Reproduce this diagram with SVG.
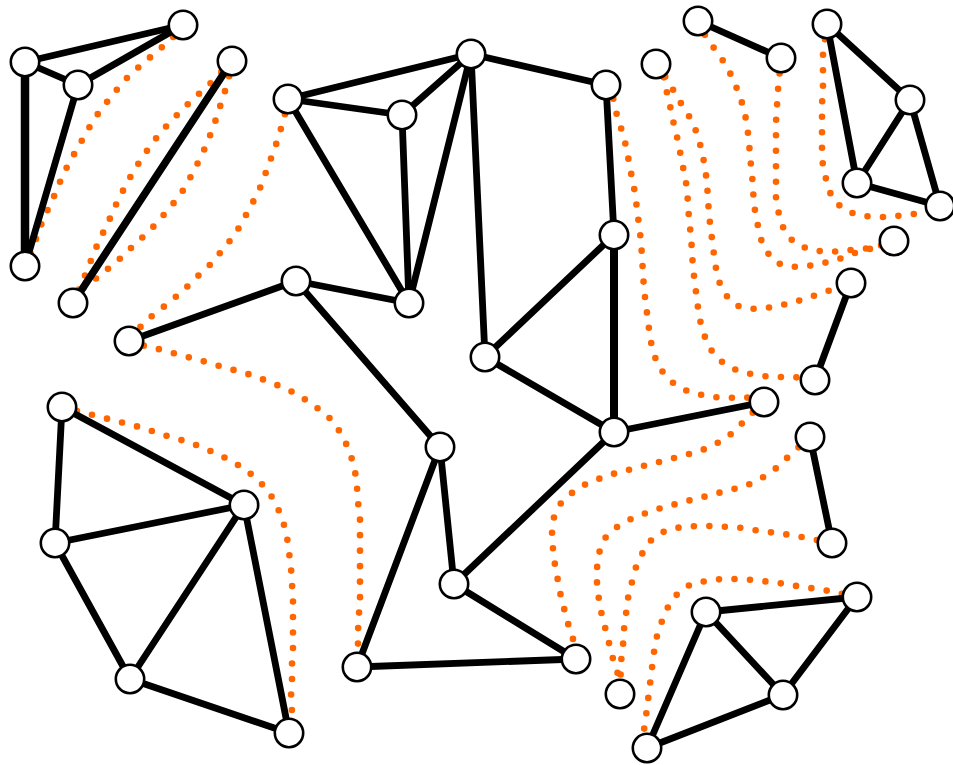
<svg xmlns="http://www.w3.org/2000/svg" width="953" height="765" viewBox="0 0 953 765">
<style>
.dot{fill:none;stroke:#ff6600;stroke-width:6.6;stroke-linecap:round;stroke-linejoin:round;stroke-dasharray:0 15.5}
.e{stroke:#000;stroke-width:6.8;stroke-linecap:round}
.n{fill:#fff;stroke:#000;stroke-width:2.6}
</style>
<rect width="953" height="765" fill="#fff"/>
<g id="dotted">
<path class="dot" d="M183,25 L170,41 157,51 146,61 133,72 122,83 112,96 102,108 93,121 85,135 77,149 69,163 62,177 56,192 49,207 43,220 37,236 32,250 25,266"/>
<path class="dot" d="M232,61 L207,87 194,98 183,109 172,120 161,132 151,145 142,158 133,172 126,185 118,200 112,214 105,229 98,243 92,258 86,273 80,287 73,303"/>
<path class="dot" d="M232,61 L228,82 223,97 218,113 213,128 207,143 201,157 193,172 186,186 177,199 167,211 156,224 145,235 133,246 122,257 110,267 99,277 87,283 73,303"/>
<path class="dot" d="M288,99 L284,119 279,135 274,151 268,166 263,181 257,195 249,209 242,223 233,237 223,249 213,262 201,273 190,284 178,295 166,305 153,315 142,325 129,341"/>
<path class="dot" d="M129,341 L148,347 163,350 180,355 195,359 210,363 226,368 242,372 257,377 272,383 287,389 300,396 313,405 327,415 337,427 345,441 351,456 355,471 357,487 358,502 360,518 360,534 360,550 360,566 360,582 360,598 359,614 358,631 358,647 357,667"/>
<path class="dot" d="M62,407 L80,412 97,416 112,420 128,424 143,428 158,433 173,438 189,442 203,448 218,454 233,462 246,470 258,480 269,492 277,506 283,521 287,537 289,552 291,568 292,584 293,600 293,616 293,632 293,648 292,664 292,680 291,696 292,712 289,733"/>
<path class="dot" d="M606,85 L614,100 617,116 622,131 626,146 629,162 632,178 635,193 637,209 639,225 641,241 642,257 643,273 644,289 646,305 648,321 650,337 653,352 659,367 669,380 682,389 697,394 713,397 729,398 745,397 764,402"/>
<path class="dot" d="M698,21 L707,39 717,52 726,65 733,79 739,94 744,109 747,125 749,141 750,157 752,173 753,189 754,205 757,221 760,237 766,251 777,263 792,267 808,266 824,263 839,259 855,253 873,248 894,241"/>
<path class="dot" d="M781,58 L778,90 777,106 776,122 776,138 776,154 776,170 776,186 776,202 780,218 785,233 796,244 811,250 827,252 843,251 858,249 874,248 894,241"/>
<path class="dot" d="M827,24 L823,55 823,71 823,87 822,104 822,120 822,136 822,152 823,167 827,183 832,198 843,209 857,215 873,217 889,217 905,215 922,213 940,206"/>
<path class="dot" d="M656,64 L666,81 667,94 671,110 674,125 678,141 681,157 684,172 687,188 688,204 689,219 691,236 692,252 693,268 695,284 697,300 699,316 703,332 709,347 718,359 731,368 746,373 762,376 778,377 794,377 815,380"/>
<path class="dot" d="M656,64 L670,83 675,94 684,108 692,121 698,136 702,152 705,167 707,183 708,199 709,215 711,231 713,247 715,263 718,279 724,293 735,305 750,309 766,308 782,305 798,301 813,296 828,291 851,283"/>
<path class="dot" d="M764,402 L746,419 735,431 723,440 708,448 693,453 678,457 663,461 647,465 632,469 616,473 601,478 586,484 573,492 561,503 554,517 552,533 553,549 555,565 558,581 561,597 565,612 569,627 574,642 576,659"/>
<path class="dot" d="M810,437 L791,454 779,466 767,475 753,483 738,488 722,492 707,496 691,500 676,504 661,508 646,513 631,519 617,527 605,538 599,553 597,568 597,584 599,600 602,616 606,631 610,647 614,663 619,677 620,694"/>
<path class="dot" d="M832,543 L807,538 791,535 776,533 760,531 744,528 728,527 713,526 697,526 681,527 665,531 652,539 643,552 636,567 632,582 628,598 626,614 624,629 623,646 621,662 620,694"/>
<path class="dot" d="M857,597 L834,592 818,589 802,587 786,584 770,582 754,580 738,579 722,579 706,581 691,584 678,593 668,607 662,621 657,636 654,652 652,668 650,684 648,700 646,716 644,730 647,748"/>
</g>
<g id="edges">
<line class="e" x1="25" y1="62" x2="183" y2="25"/>
<line class="e" x1="25" y1="62" x2="78" y2="85"/>
<line class="e" x1="78" y1="85" x2="183" y2="25"/>
<line class="e" x1="25" y1="62" x2="25" y2="266" style="stroke-width:8.5"/>
<line class="e" x1="78" y1="85" x2="25" y2="266"/>
<line class="e" x1="232" y1="61" x2="73" y2="303" style="stroke-width:7.5"/>
<line class="e" x1="288" y1="99" x2="471" y2="54"/>
<line class="e" x1="288" y1="99" x2="402" y2="115"/>
<line class="e" x1="402" y1="115" x2="471" y2="54"/>
<line class="e" x1="288" y1="99" x2="409" y2="303"/>
<line class="e" x1="402" y1="115" x2="409" y2="303"/>
<line class="e" x1="471" y1="54" x2="409" y2="303"/>
<line class="e" x1="471" y1="54" x2="485" y2="357"/>
<line class="e" x1="471" y1="54" x2="606" y2="85"/>
<line class="e" x1="606" y1="85" x2="614" y2="235"/>
<line class="e" x1="614" y1="235" x2="485" y2="357"/>
<line class="e" x1="614" y1="235" x2="614" y2="432" style="stroke-width:8"/>
<line class="e" x1="485" y1="357" x2="614" y2="432"/>
<line class="e" x1="614" y1="432" x2="764" y2="402"/>
<line class="e" x1="614" y1="432" x2="454" y2="584"/>
<line class="e" x1="129" y1="341" x2="296" y2="281"/>
<line class="e" x1="296" y1="281" x2="409" y2="303"/>
<line class="e" x1="296" y1="281" x2="440" y2="447"/>
<line class="e" x1="440" y1="447" x2="454" y2="584"/>
<line class="e" x1="440" y1="447" x2="357" y2="667"/>
<line class="e" x1="357" y1="667" x2="576" y2="659"/>
<line class="e" x1="454" y1="584" x2="576" y2="659"/>
<line class="e" x1="698" y1="21" x2="781" y2="58"/>
<line class="e" x1="827" y1="24" x2="910" y2="100"/>
<line class="e" x1="827" y1="24" x2="857" y2="183"/>
<line class="e" x1="910" y1="100" x2="857" y2="183"/>
<line class="e" x1="910" y1="100" x2="940" y2="206"/>
<line class="e" x1="857" y1="183" x2="940" y2="206"/>
<line class="e" x1="851" y1="283" x2="815" y2="380"/>
<line class="e" x1="810" y1="437" x2="832" y2="543"/>
<line class="e" x1="706" y1="612" x2="857" y2="597"/>
<line class="e" x1="706" y1="612" x2="783" y2="695"/>
<line class="e" x1="857" y1="597" x2="783" y2="695"/>
<line class="e" x1="783" y1="695" x2="647" y2="748"/>
<line class="e" x1="706" y1="612" x2="647" y2="748"/>
<line class="e" x1="62" y1="407" x2="55" y2="543"/>
<line class="e" x1="62" y1="407" x2="244" y2="505"/>
<line class="e" x1="55" y1="543" x2="244" y2="505"/>
<line class="e" x1="55" y1="543" x2="130" y2="679"/>
<line class="e" x1="244" y1="505" x2="130" y2="679"/>
<line class="e" x1="244" y1="505" x2="289" y2="733"/>
<line class="e" x1="130" y1="679" x2="289" y2="733"/>
</g>
<g id="A1"><circle class="n" cx="25" cy="62" r="14.2"/></g>
<g id="A2"><circle class="n" cx="78" cy="85" r="14.2"/></g>
<g id="A3"><circle class="n" cx="183" cy="25" r="14.2"/></g>
<g id="A4"><circle class="n" cx="25" cy="266" r="14.2"/></g>
<g id="A5"><circle class="n" cx="232" cy="61" r="14.2"/></g>
<g id="A6"><circle class="n" cx="73" cy="303" r="14.2"/></g>
<g id="B1"><circle class="n" cx="288" cy="99" r="14.2"/></g>
<g id="B2"><circle class="n" cx="129" cy="341" r="14.2"/></g>
<g id="B3"><circle class="n" cx="296" cy="281" r="14.2"/></g>
<g id="B4"><circle class="n" cx="409" cy="303" r="14.2"/></g>
<g id="N1"><circle class="n" cx="471" cy="54" r="14.2"/></g>
<g id="N2"><circle class="n" cx="402" cy="115" r="14.2"/></g>
<g id="N3"><circle class="n" cx="606" cy="85" r="14.2"/></g>
<g id="N4"><circle class="n" cx="614" cy="235" r="14.2"/></g>
<g id="N5"><circle class="n" cx="485" cy="357" r="14.2"/></g>
<g id="N6"><circle class="n" cx="614" cy="432" r="14.2"/></g>
<g id="C1"><circle class="n" cx="440" cy="447" r="14.2"/></g>
<g id="C2"><circle class="n" cx="454" cy="584" r="14.2"/></g>
<g id="C3"><circle class="n" cx="357" cy="667" r="14.2"/></g>
<g id="C4"><circle class="n" cx="576" cy="659" r="14.2"/></g>
<g id="D1"><circle class="n" cx="698" cy="21" r="14.2"/></g>
<g id="D2"><circle class="n" cx="781" cy="58" r="14.2"/></g>
<g id="D3"><circle class="n" cx="656" cy="64" r="14.2"/></g>
<g id="E1"><circle class="n" cx="827" cy="24" r="14.2"/></g>
<g id="E2"><circle class="n" cx="910" cy="100" r="14.2"/></g>
<g id="E3"><circle class="n" cx="857" cy="183" r="14.2"/></g>
<g id="E4"><circle class="n" cx="940" cy="206" r="14.2"/></g>
<g id="F1"><circle class="n" cx="894" cy="241" r="14.2"/></g>
<g id="F2"><circle class="n" cx="851" cy="283" r="14.2"/></g>
<g id="F3"><circle class="n" cx="815" cy="380" r="14.2"/></g>
<g id="O1"><circle class="n" cx="764" cy="402" r="14.2"/></g>
<g id="O2"><circle class="n" cx="810" cy="437" r="14.2"/></g>
<g id="O3"><circle class="n" cx="832" cy="543" r="14.2"/></g>
<g id="G1"><circle class="n" cx="706" cy="612" r="14.2"/></g>
<g id="G2"><circle class="n" cx="857" cy="597" r="14.2"/></g>
<g id="G3"><circle class="n" cx="783" cy="695" r="14.2"/></g>
<g id="G4"><circle class="n" cx="647" cy="748" r="14.2"/></g>
<g id="H1"><circle class="n" cx="620" cy="694" r="14.2"/></g>
<g id="L1"><circle class="n" cx="62" cy="407" r="14.2"/></g>
<g id="L2"><circle class="n" cx="55" cy="543" r="14.2"/></g>
<g id="L3"><circle class="n" cx="244" cy="505" r="14.2"/></g>
<g id="L4"><circle class="n" cx="130" cy="679" r="14.2"/></g>
<g id="L5"><circle class="n" cx="289" cy="733" r="14.2"/></g>
</svg>
